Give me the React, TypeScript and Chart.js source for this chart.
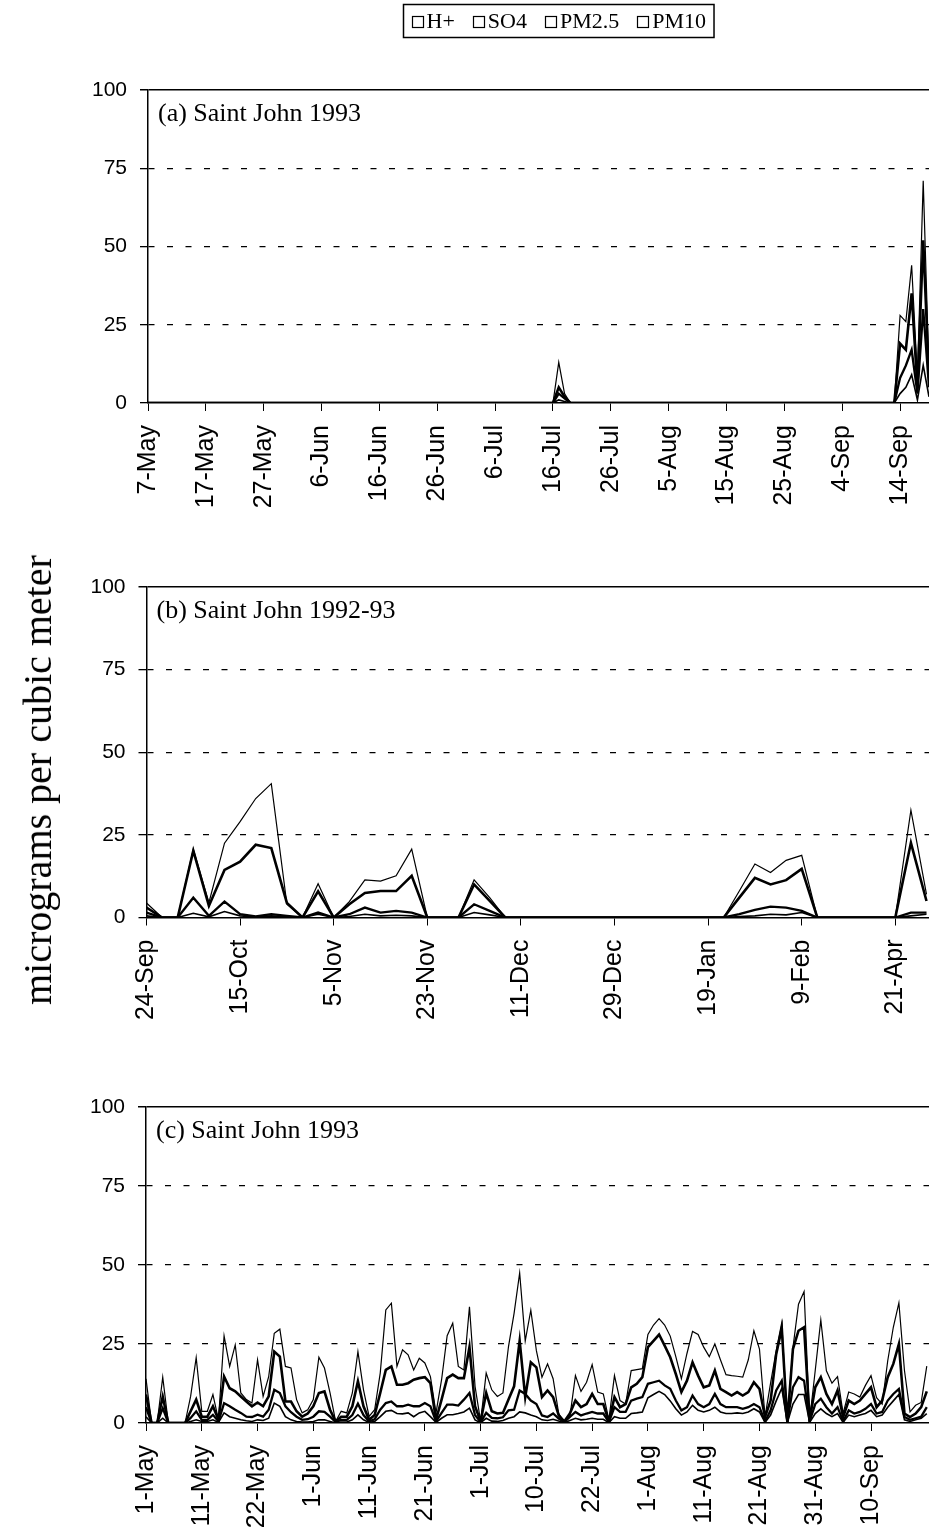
import React, { useEffect, useRef } from 'react';
import { Chart, registerables } from 'chart.js';

Chart.register(...registerables);
Chart.defaults.font.family = '"Liberation Sans", Arial, sans-serif';
Chart.defaults.color = '#000';

// ---------- shared ----------
const SERIES_NAMES = ['H+', 'SO4', 'PM2.5', 'PM10'];
const Y_TICKS_STEP = 25;

// ---------- panel (a): Saint John 1993, daily from 7-May ----------
const aTitle = '(a) Saint John 1993';
const aTickLabels = ['7-May', '17-May', '27-May', '6-Jun', '16-Jun', '26-Jun', '6-Jul', '16-Jul', '26-Jul', '5-Aug', '15-Aug', '25-Aug', '4-Sep', '14-Sep'];
const aDays = [0, 70, 71, 72, 73, 129, 130, 131, 132, 133, 134, 135];
const aHplus = [0, 0, 1, 0.5, 0, 0, 3, 5, 9, 1, 12, 2];
const aSO4 = [0, 0, 3, 1.5, 0, 0, 8, 12, 17, 3, 30, 5];
const aPM25 = [0, 0, 5, 2, 0, 0, 19, 17, 35, 5, 52, 8];
const aPM10 = [0, 0, 13, 3, 0, 0, 28, 26, 44, 8, 71, 10];

// ---------- panel (b): Saint John 1992-93, sample index ----------
const bTitle = '(b) Saint John 1992-93';
const bTickLabels = ['24-Sep', '15-Oct', '5-Nov', '23-Nov', '11-Dec', '29-Dec', '19-Jan', '9-Feb', '21-Apr'];
const bHplus = [
  0.5, 0, 0, 1.3, 0.2, 1.8, 0.5, 0.2, 0.5, 0.2,
  0, 1, 0, 0.3, 1, 0.5, 0.7, 0.5, 0, 0,
  0, 1.5, 0.8, 0, 0, 0, 0, 0, 0, 0,
  0, 0, 0, 0, 0, 0, 0, 0, 0.3, 0.5,
  1, 0.8, 1.5, 0, 0, 0, 0, 0, 0, 0.5,
  1,
];
const bSO4 = [
  1.5, 0, 0, 6, 0.5, 4.8, 1, 0.3, 1, 0.5,
  0, 1.5, 0, 1, 3, 1.5, 2, 1.5, 0, 0,
  0, 4, 2, 0, 0, 0, 0, 0, 0, 0,
  0, 0, 0, 0, 0, 0, 0, 0, 1, 2.3,
  3.3, 3, 2, 0, 0, 0, 0, 0, 0, 1.5,
  1.5,
];
const bPM25 = [
  3, 0, 0, 20.2, 3.5, 14.4, 16.9, 22, 21, 4.4,
  0, 7.9, 0, 4, 7.4, 8, 8, 12.6, 0, 0,
  0, 10, 5, 0, 0, 0, 0, 0, 0, 0,
  0, 0, 0, 0, 0, 0, 0, 0, 6, 12,
  10, 11.3, 14.7, 0, 0, 0, 0, 0, 0, 22.6,
  5,
];
const bPM10 = [
  4.4, 0, 0, 20.7, 4.5, 22.5, 29, 36, 40.5, 4,
  0, 10.2, 0, 4.8, 11.4, 11, 12.6, 20.7, 0, 0,
  0, 11.4, 6, 0, 0, 0, 0, 0, 0, 0,
  0, 0, 0, 0, 0, 0, 0, 0, 8, 16.2,
  13.6, 17.3, 18.8, 0, 0, 0, 0, 0, 0, 32.5,
  7,
];

// ---------- panel (c): Saint John 1993, sample index from 1-May ----------
const cTitle = '(c) Saint John 1993';
const cTickLabels = ['1-May', '11-May', '22-May', '1-Jun', '11-Jun', '21-Jun', '1-Jul', '10-Jul', '22-Jul', '1-Aug', '11-Aug', '21-Aug', '31-Aug', '10-Sep'];
const cHplus = [
  2, 0, 0, 1.5, 0, 0, 0, 0, 0.5, 1,
  0.5, 0.5, 1, 0.2, 3.2, 2, 1.5, 1, 0.7, 0.5,
  1, 0.8, 1.5, 6.3, 5.3, 2, 1, 0.5, 0.3, 0.3,
  0.5, 1, 1, 0.5, 0, 0.3, 0.3, 1, 2.6, 1,
  0.2, 0.5, 2, 3.7, 4, 3, 2.9, 3.2, 2, 3.2,
  3.7, 2, 0.2, 1.5, 2.6, 2.6, 3, 3.5, 4.7, 1,
  0.1, 1.5, 0.6, 0.5, 0.8, 1.5, 2, 3.5, 3.2, 2.5,
  2, 1, 0.8, 1.2, 0.6, 0.1, 0.8, 1.5, 1, 1.2,
  1.5, 1.2, 1.2, 0.1, 2, 1.5, 1.5, 3, 3.2, 3.5,
  8, 9, 10, 9, 7, 4.5, 2.5, 3.5, 5.6, 4,
  3.5, 4, 5, 3.5, 3, 3, 3.2, 3, 3.5, 4.5,
  3.5, 0.2, 2.5, 7, 11, 0.1, 6, 9, 9, 0.2,
  3, 4.5, 3, 2, 3, 0.2, 2.5, 2, 2.5, 3,
  4, 2, 2.5, 5, 7, 9, 1, 0.5, 1, 1.5,
  3,
];
const cSO4 = [
  5, 0, 0, 4.7, 0, 0, 0, 0, 1.6, 3.7,
  1, 1, 2.6, 0.5, 6.3, 5.3, 4.2, 3.2, 2, 1.9,
  2.6, 2, 4.2, 10.5, 9.5, 5.3, 3.4, 2, 1, 1.2,
  2, 3.7, 3.5, 2, 0.3, 1, 1, 2.5, 6.1, 2.5,
  0.5, 1.2, 4.2, 6.3, 6.8, 5.3, 5.3, 5.8, 5.3, 5.3,
  6.3, 5.3, 0.5, 3.2, 5.8, 5.8, 5.5, 7.4, 9.5, 2.5,
  0.3, 3.2, 1.6, 1.5, 1.8, 4, 4.2, 10.3, 9.2, 7.1,
  6, 2.4, 1.9, 3, 1.4, 0.3, 1.9, 3.5, 2.4, 3,
  3.5, 3, 3, 0.3, 5, 3.5, 3.5, 7.1, 7.7, 8.2,
  12.4, 12.9, 13.4, 11.9, 10.8, 7.1, 4, 5, 8.7, 6,
  5, 6, 9.2, 6, 5, 5, 5, 4.5, 5, 6,
  5, 0.5, 4, 10.3, 13.4, 0.3, 11.3, 14.5, 13.4, 0.5,
  6, 7.7, 5, 3, 5, 0.5, 4, 3, 3.5, 4.5,
  6, 3, 3.5, 7.1, 9.2, 10.8, 1.9, 1, 1.5, 2,
  5,
];
const cPM25 = [
  9, 0, 0, 8.4, 0, 0, 0, 0, 3.7, 7.4,
  2, 2, 5.3, 1, 14.7, 11, 10, 8.4, 6.8, 5.3,
  6.5, 5.3, 8.4, 22.6, 21, 6.8, 6.8, 3.7, 2, 3,
  5.3, 9.5, 10, 4.2, 0.5, 2, 2, 5.3, 13.2, 5.3,
  1, 2.5, 9.5, 16.8, 17.9, 12.1, 12.1, 12.6, 13.7, 14.2,
  14.5, 12.6, 1, 7.4, 14.2, 15.3, 14.2, 14.2, 24, 5.3,
  0.5, 9.5, 3.7, 3, 3.2, 7.4, 11.6, 26, 8.2, 19.2,
  17.6, 8.2, 10.3, 8.2, 2.4, 0.5, 3, 7.1, 5, 6,
  9.2, 6, 6, 0.5, 8.2, 5, 6, 11.3, 12.4, 14.5,
  24, 26, 28, 24.5, 20.8, 15.5, 9.8, 13.4, 19.2, 15,
  11.3, 11.9, 16.6, 10.8, 9.8, 8.7, 9.8, 8.7, 9.8, 12.9,
  10.8, 1.9, 7.1, 21.8, 30, 0.3, 23.4, 29.2, 30.3, 1,
  11.3, 14.5, 9.2, 6, 10.3, 1.9, 7.1, 6, 7.1, 9.2,
  11.3, 5, 7.1, 14.5, 18.7, 25, 3, 1.9, 3, 5,
  10,
];
const cPM10 = [
  14, 0, 0, 14.5, 0, 0, 0, 0, 8.4, 20.7,
  3.7, 3.7, 9, 1, 27.6, 17.9, 24.7, 9.5, 7.4, 6.3,
  20, 8.4, 14.7, 28.4, 29.7, 17.9, 17.4, 7.4, 3.2, 4.2,
  7.4, 20.8, 17.4, 9.5, 0.5, 3.7, 3.2, 9.5, 22.6, 10.5,
  2.1, 4.2, 15.8, 35.8, 37.9, 17.9, 23.2, 21.6, 16.8, 20.5,
  19, 14.7, 3.2, 13.7, 27.6, 31.6, 17.9, 16.8, 36.8, 11.6,
  0.5, 15.8, 10.5, 8.4, 9.5, 24.2, 34.7, 47.5, 26, 35.7,
  22.9, 14.5, 18.7, 14, 3, 0.3, 1.9, 15, 10, 12.9,
  18.5, 9.8, 9.2, 1, 15, 7.1, 6, 16.6, 16.9, 17.2,
  28, 31, 33, 31, 27.5, 21, 14, 22, 29, 28,
  24, 21, 25, 20, 15.3, 15, 14.8, 14.5, 20, 29.2,
  23.4, 2, 12.7, 22.9, 31.8, 0.3, 23.8, 37.6, 41.6, 1,
  16.6, 32.6, 16.5, 12.6, 14.7, 3, 9.8, 9.2, 8.2, 11.9,
  15, 8, 6, 19.7, 30.3, 38, 16.6, 3.5, 5.6, 6.5,
  18,
];

// ---------- styling ----------
const LINE_WIDTHS = [1.6, 2.3, 2.6, 1.2];
const SERIF = '"Liberation Serif", "Times New Roman", serif';
const SANS = '"Liberation Sans", Arial, sans-serif';

const panelLabelPlugin = {
  id: 'panelLabel',
  afterDraw(chart: any, _args: any, opts: any) {
    if (!opts || !opts.text) return;
    const { ctx, chartArea } = chart;
    ctx.save();
    ctx.font = `26px ${SERIF}`;
    ctx.fillStyle = '#000';
    ctx.textBaseline = 'alphabetic';
    ctx.textAlign = 'left';
    ctx.fillText(opts.text, chartArea.left + 10, chartArea.top + 31);
    ctx.restore();
  },
};

const frameLegendPlugin = {
  id: 'frameLegend',
  afterDraw(chart: any, _args: any, opts: any) {
    if (!opts || !opts.show) return;
    const ctx = chart.ctx;
    ctx.save();
    ctx.font = `22px ${SERIF}`;
    const names: string[] = chart.data.datasets.map((d: any) => d.label);
    const box = 11;
    const gapBoxText = 4;
    const gapItems = 18;
    const padX = 8;
    const widths = names.map((n) => box + gapBoxText + ctx.measureText(n).width);
    const total = widths.reduce((a, b) => a + b, 0) + gapItems * (names.length - 1);
    const frameW = total + 2 * padX;
    const left = Math.round(opts.cx - frameW / 2) + 0.5;
    ctx.strokeStyle = '#000';
    ctx.lineWidth = 1.5;
    ctx.strokeRect(left, opts.top + 0.5, frameW, opts.height);
    let x = left + padX;
    const cy = opts.top + opts.height / 2 + 1;
    names.forEach((n, i) => {
      ctx.lineWidth = 1.2;
      ctx.strokeRect(Math.round(x) + 0.5, Math.round(cy - box / 2) + 0.5, box, box);
      ctx.fillStyle = '#000';
      ctx.textBaseline = 'middle';
      ctx.textAlign = 'left';
      ctx.fillText(n, x + box + gapBoxText, cy + 1);
      x += widths[i] + gapItems;
    });
    ctx.restore();
  },
};

type PanelSpec = {
  title: string;
  xs: number[];
  series: number[][];
  tickLabels: string[];
  tickStep: number;
  xMax: number;
  plotLeft: number;
  plotTop: number;
  plotBottom: number;
  height: number;
  legend?: boolean;
};

function makeConfig(spec: PanelSpec): any {
  const datasets = spec.series.map((vals, k) => ({
    label: SERIES_NAMES[k],
    data: vals.map((y, i) => ({ x: spec.xs[i], y })),
    borderColor: '#000',
    backgroundColor: '#000',
    borderWidth: LINE_WIDTHS[k],
    pointRadius: 0,
    tension: 0,
    fill: false,
  }));
  return {
    type: 'line',
    data: { datasets },
    plugins: [panelLabelPlugin, frameLegendPlugin],
    options: {
      animation: false,
      responsive: false,
      devicePixelRatio: 1,
      layout: { padding: { top: spec.plotTop, left: 0, right: 0, bottom: 0 } },
      plugins: {
        legend: { display: false },
        tooltip: { enabled: false },
        panelLabel: { text: spec.title },
        frameLegend: { show: !!spec.legend, cx: 558, top: 4, height: 33 },
      },
      scales: {
        x: {
          type: 'linear',
          min: 0,
          max: spec.xMax,
          afterFit: (scale: any) => {
            scale.height = spec.height - spec.plotBottom;
            scale.paddingLeft = 0;
            scale.paddingRight = 0;
          },
          ticks: {
            stepSize: spec.tickStep,
            includeBounds: false,
            autoSkip: false,
            maxRotation: 90,
            minRotation: 90,
            padding: 14,
            font: { family: SANS, size: 25 },
            color: '#000',
            callback: (v: number) => {
              const k = Math.round(v / spec.tickStep);
              if (Math.abs(v - k * spec.tickStep) > 1e-6) return null;
              return k < spec.tickLabels.length ? spec.tickLabels[k] : null;
            },
          },
          grid: {
            display: true,
            drawOnChartArea: false,
            drawTicks: true,
            tickLength: 8,
            color: '#000',
            tickColor: '#000',
            lineWidth: 1,
          },
          border: { display: true, color: '#000', width: 1.5 },
        },
        y: {
          type: 'linear',
          min: 0,
          max: 100,
          afterFit: (scale: any) => {
            scale.width = spec.plotLeft;
          },
          ticks: {
            stepSize: Y_TICKS_STEP,
            padding: 13,
            font: { family: SANS, size: 21 },
            color: '#000',
          },
          grid: {
            display: true,
            drawTicks: true,
            tickLength: 8,
            tickColor: '#000',
            lineWidth: (c: any) => (c.tick && c.tick.value === 100 ? 1.5 : 1.3),
            color: (c: any) => (c.tick && c.tick.value === 0 ? 'rgba(0,0,0,0)' : '#000'),
          },
          border: {
            display: true,
            color: '#000',
            width: 1.5,
            dash: (c: any) => (c.tick && c.tick.value === 100 ? [] : [6, 12.5]),
          },
        },
      },
    },
  };
}

function Panel({ spec, top }: { spec: PanelSpec; top: number }) {
  const ref = useRef<HTMLCanvasElement | null>(null);
  useEffect(() => {
    if (!ref.current) return;
    const chart = new Chart(ref.current, makeConfig(spec));
    return () => chart.destroy();
  }, [spec]);
  return (
    <canvas
      ref={ref}
      width={929}
      height={spec.height}
      style={{ position: 'absolute', left: 0, top, width: 929, height: spec.height, display: 'block' }}
    />
  );
}

const bIndex = bPM10.map((_, i) => i);
const cIndex = cPM10.map((_, i) => i);

const PANEL_A: PanelSpec = {
  title: aTitle,
  xs: aDays,
  series: [aHplus, aSO4, aPM25, aPM10],
  tickLabels: aTickLabels,
  tickStep: 10,
  xMax: 135,
  plotLeft: 148,
  plotTop: 90,
  plotBottom: 403,
  height: 520,
  legend: true,
};
const PANEL_B: PanelSpec = {
  title: bTitle,
  xs: bIndex,
  series: [bHplus, bSO4, bPM25, bPM10],
  tickLabels: bTickLabels,
  tickStep: 6,
  xMax: 50.16,
  plotLeft: 146.5,
  plotTop: 67,
  plotBottom: 397.5,
  height: 510,
};
const PANEL_C: PanelSpec = {
  title: cTitle,
  xs: cIndex,
  series: [cHplus, cSO4, cPM25, cPM10],
  tickLabels: cTickLabels,
  tickStep: 10,
  xMax: 140.4,
  plotLeft: 146,
  plotTop: 77,
  plotBottom: 393,
  height: 506,
};

export default function App() {
  return (
    <div style={{ position: 'absolute', left: 0, top: 0, width: 929, height: 1536, background: '#fff', overflow: 'hidden' }}>
      <Panel spec={PANEL_A} top={0} />
      <Panel spec={PANEL_B} top={520} />
      <Panel spec={PANEL_C} top={1030} />
      <div
        style={{
          position: 'absolute',
          left: 38,
          top: 780,
          transform: 'translate(-50%, -50%) rotate(-90deg)',
          whiteSpace: 'nowrap',
          font: `40px ${SERIF}`,
          color: '#000',
          lineHeight: 1,
        }}
      >
        micrograms per cubic meter
      </div>
    </div>
  );
}
